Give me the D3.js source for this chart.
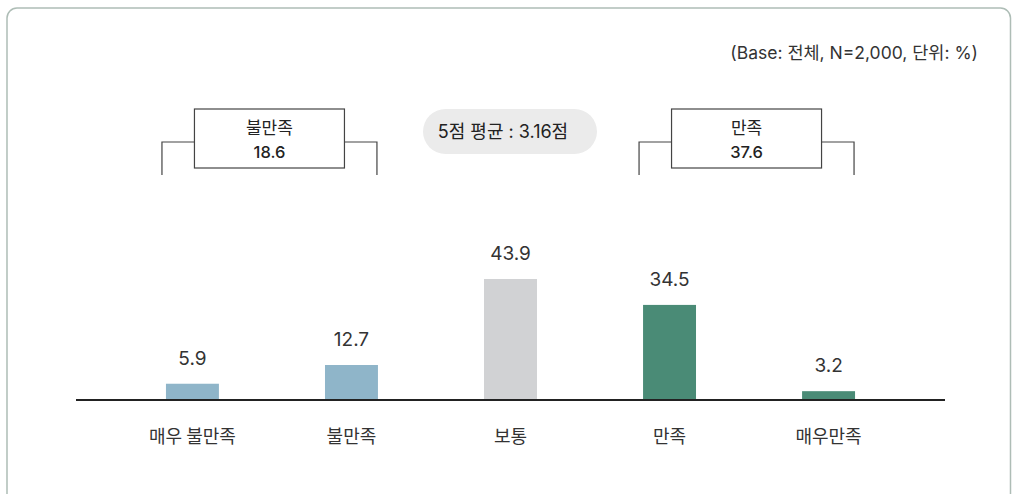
<!DOCTYPE html>
<html><head><meta charset="utf-8">
<script src="https://cdn.jsdelivr.net/npm/d3@7"></script>
<style>
html,body{margin:0;padding:0;background:#fff;}
svg{display:block;font-family:Inter,"Noto Sans CJK KR","Noto Sans",sans-serif;}
</style></head>
<body><svg id="c" width="1014" height="494"></svg>
<script>
const categories = ["매우 불만족","불만족","보통","만족","매우만족"];
const values = [5.9, 12.7, 43.9, 34.5, 3.2];
const barColors = ["#8fb5c9","#8fb5c9","#d1d2d4","#4a8b76","#4a8b76"];
const groups = [
  {label:"불만족", value:"18.6", from:0, to:1},
  {label:"만족", value:"37.6", from:3, to:4}
];
const meanText = "5점 평균 : 3.16점";
const noteText = "(Base: 전체, N=2,000, 단위: %)";

const svg = d3.select("#c");
// card
svg.append("rect").attr("x",7).attr("y",8).attr("width",1003.5).attr("height",520)
  .attr("rx",10).attr("fill","#fff").attr("stroke","#aebdb6").attr("stroke-width",1.5);

svg.append("text").attr("x",978).attr("y",59).attr("text-anchor","end")
  .attr("font-size",17.5).attr("fill","#333").text(noteText);

const x = d3.scaleBand().domain(categories).range([113,908]).paddingInner(0.667).paddingOuter(0.333);
const y = d3.scaleLinear().domain([0,43.9]).range([400,279]);

// bars
svg.selectAll("rect.bar").data(values).join("rect").attr("class","bar")
  .attr("x",(d,i)=>x(categories[i])).attr("width",x.bandwidth())
  .attr("y",d=>y(d)).attr("height",d=>y(0)-y(d))
  .attr("fill",(d,i)=>barColors[i]);

svg.selectAll("text.val").data(values).join("text").attr("class","val")
  .attr("x",(d,i)=>x(categories[i])+x.bandwidth()/2).attr("y",d=>y(d)-19)
  .attr("text-anchor","middle").attr("font-size",19).attr("fill","#333")
  .text(d=>d.toFixed(1));

// axis
const ax = svg.append("g").attr("transform","translate(0,400)")
  .call(d3.axisBottom(x).tickSize(0).tickPadding(0));
ax.select(".domain").remove();
svg.append("line").attr("x1",76).attr("x2",945).attr("y1",400).attr("y2",400)
  .attr("stroke","#222").attr("stroke-width",2);
ax.selectAll(".tick text").attr("y",43).attr("dy",0).attr("font-size",18)
  .attr("fill","#333").attr("font-family","'Noto Sans CJK KR',sans-serif");

// brackets
groups.forEach(g=>{
  const x0 = x(categories[g.from]) - 4;
  const x1 = x(categories[g.to]) + x.bandwidth() - 1;
  const cx = (x0+x1)/2;
  const bw = 150, top=109, bot=168, hy=142, vy=175;
  const p = svg.append("g");
  p.append("path").attr("d",`M${x0},${vy}V${hy}H${cx-bw/2}M${cx+bw/2},${hy}H${x1}V${vy}`)
    .attr("fill","none").attr("stroke","#444").attr("stroke-width",1.2);
  p.append("rect").attr("x",cx-bw/2).attr("y",top).attr("width",bw).attr("height",bot-top)
    .attr("fill","#fff").attr("stroke","#444").attr("stroke-width",1.2);
  p.append("text").attr("x",cx).attr("y",134).attr("text-anchor","middle")
    .attr("font-size",17).attr("font-weight",400).attr("fill","#222").text(g.label);
  p.append("text").attr("x",cx).attr("y",158).attr("text-anchor","middle")
    .attr("font-size",16.5).attr("font-weight",500).attr("fill","#222").text(g.value);
});

// mean pill
svg.append("rect").attr("x",423).attr("y",109).attr("width",174).attr("height",45)
  .attr("rx",22.5).attr("fill","#ebebeb");
svg.append("text").attr("x",503).attr("y",138).attr("text-anchor","middle")
  .attr("font-size",18).attr("font-weight",400).attr("fill","#222").text(meanText);
</script></body></html>
